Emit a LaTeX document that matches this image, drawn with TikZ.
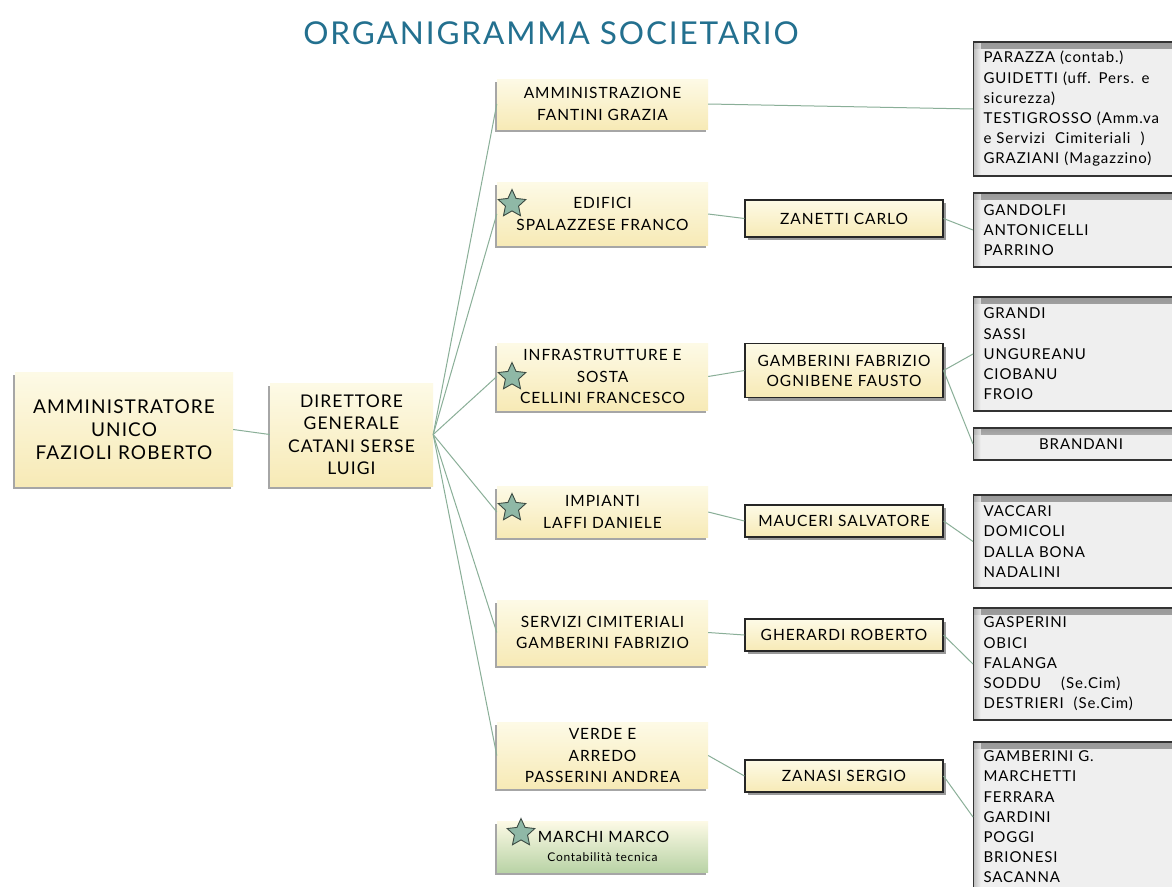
\documentclass[tikz,border=0pt]{standalone}
\usepackage{fontspec}
\setmainfont{Lato}[LetterSpace=6]
\usetikzlibrary{shapes.geometric,shadows}
\definecolor{creamA}{HTML}{FDFAE6}
\definecolor{creamB}{HTML}{F7EAB6}
\definecolor{greenB}{HTML}{B9D3A6}
\definecolor{connc}{HTML}{8AAF98}
\definecolor{listfill}{HTML}{EFEFEF}
\definecolor{titleblue}{HTML}{23708F}
\definecolor{starfill}{HTML}{8FB8A6}
\definecolor{stardraw}{HTML}{3B4A42}
\begin{document}
\begin{tikzpicture}[x=1pt,y=-1pt,
  conn/.style={draw=connc, line width=1pt},
  ubox/.style={rectangle, inner sep=0pt, top color=creamA, bottom color=creamB, align=center,
    drop shadow={shadow xshift=-2pt, shadow yshift=-2.5pt, opacity=0.35, fill=black}},
  topbox/.style={ubox, font=\fontsize{19}{23}\selectfont},
  midbox/.style={ubox, minimum width=211, font=\fontsize{15.5}{21.5}\selectfont},
  subbox/.style={rectangle, inner sep=0pt, top color=creamA, bottom color=creamB, draw=black!85, line width=1.1pt,
    minimum width=198, align=center, font=\fontsize{15.5}{20}\selectfont,
    drop shadow={shadow xshift=3pt, shadow yshift=-3pt, opacity=0.4, fill=black}},
  listbox/.style={rectangle, fill=listfill, draw=black!80, line width=1.1pt, anchor=west,
    inner xsep=10pt, inner ysep=0pt, text width=195, minimum width=215, align=left,
    font=\fontsize{15}{20.2}\selectfont,
    path picture={
      \shade[top color=black!40, bottom color=listfill] (path picture bounding box.north west) rectangle ([yshift=-6pt]path picture bounding box.north east);
      \shade[left color=black!30, right color=listfill, fill opacity=0.8] (path picture bounding box.north west) rectangle ([xshift=7pt]path picture bounding box.south west);
    }},
  starmark/.style={star, star points=5, star point ratio=2.1, minimum size=29, inner sep=0pt,
    fill=starfill, draw=stardraw, line width=0.9pt}
]
\path[use as bounding box] (0,0) rectangle (1172,886);
\fill[white] (0,0) rectangle (1172,886);
\clip (0,0) rectangle (1172,886);

\node[text=titleblue, font=\fontsize{31.5}{36}\selectfont] (title) at (551,33) {ORGANIGRAMMA SOCIETARIO};

% level 1
\node[topbox, minimum width=218, minimum height=114] (am) at (124,429.5) {AMMINISTRATORE\\UNICO\\FAZIOLI ROBERTO};
\node[topbox, minimum width=163, minimum height=103, font=\fontsize{17.5}{22.5}\selectfont] (dg) at (351.5,434.5) {DIRETTORE\\GENERALE\\CATANI SERSE\\LUIGI};

% level 2
\node[midbox, minimum height=50] (a1) at (602.5,104) {AMMINISTRAZIONE\\FANTINI GRAZIA};
\node[midbox, minimum height=63] (a2) at (602.5,214) {EDIFICI\\SPALAZZESE FRANCO};
\node[midbox, minimum height=67] (a3) at (602.5,376.5) {INFRASTRUTTURE E\\SOSTA\\CELLINI FRANCESCO};
\node[midbox, minimum height=51] (a4) at (602.5,512) {IMPIANTI\\LAFFI DANIELE};
\node[midbox, minimum height=65] (a5) at (602.5,632.5) {SERVIZI CIMITERIALI\\GAMBERINI FABRIZIO};
\node[midbox, minimum height=66] (a6) at (602.5,755.5) {VERDE E\\ARREDO\\PASSERINI ANDREA};
\node[midbox, minimum height=51, bottom color=greenB, font=\fontsize{15.5}{19}\selectfont] (a7) at (602.5,846.5) {\hspace*{2pt}MARCHI MARCO\\{\fontsize{12}{15}\selectfont Contabilità tecnica}};

% stars
\node[starmark] (s2) at (512,204) {};
\node[starmark] (s3) at (512,377) {};
\node[starmark] (s4) at (512,508) {};
\node[starmark] (s7) at (521,833) {};

% level 3
\node[subbox, minimum height=37] (b2) at (844,218.5) {ZANETTI CARLO};
\node[subbox, minimum height=54] (b3) at (844,370.5) {GAMBERINI FABRIZIO\\OGNIBENE FAUSTO};
\node[subbox, minimum height=32] (b4) at (844,521) {MAUCERI SALVATORE};
\node[subbox, minimum height=32] (b5) at (844,635) {GHERARDI ROBERTO};
\node[subbox, minimum height=32] (b6) at (844,776) {ZANASI SERGIO};

% lists
\node[listbox, minimum height=134] (c1) at (973,109) {PARAZZA (contab.)\\GUIDETTI (uff. Pers. e\\sicurezza)\\TESTIGROSSO (Amm.va\\e Servizi\ \ Cimiteriali\ \ )\\GRAZIANI (Magazzino)};
\node[listbox, minimum height=74] (c2) at (973,230) {GANDOLFI\\ANTONICELLI\\PARRINO};
\node[listbox, minimum height=114] (c3) at (973,354) {GRANDI\\SASSI\\UNGUREANU\\CIOBANU\\FROIO};
\node[listbox, minimum height=32, align=center] (c3b) at (973,444) {BRANDANI};
\node[listbox, minimum height=93] (c4) at (973,541.5) {VACCARI\\DOMICOLI\\DALLA BONA\\NADALINI};
\node[listbox, minimum height=112] (c5) at (973,664) {GASPERINI\\OBICI\\FALANGA\\SODDU\ \ \ \ (Se.Cim)\\DESTRIERI\ \ (Se.Cim)};
\node[listbox, minimum height=150] (c6) at (973,817) {GAMBERINI G.\\MARCHETTI\\FERRARA\\GARDINI\\POGGI\\BRIONESI\\SACANNA};

% connectors
\draw[conn] (am.east) -- (dg.west);
\foreach \t in {a1,a2,a3,a4,a5,a6} \draw[conn] (dg.east) -- (\t.west);
\draw[conn] (a1.east) -- (c1.west);
\draw[conn] (a2.east) -- (b2.west);
\draw[conn] (a3.east) -- (b3.west);
\draw[conn] (a4.east) -- (b4.west);
\draw[conn] (a5.east) -- (b5.west);
\draw[conn] (a6.east) -- (b6.west);
\draw[conn] (b2.east) -- (c2.west);
\draw[conn] (b3.east) -- (c3.west);
\draw[conn] (b3.east) -- (c3b.west);
\draw[conn] (b4.east) -- (c4.west);
\draw[conn] (b5.east) -- (c5.west);
\draw[conn] (b6.east) -- (c6.west);
\end{tikzpicture}
\end{document}
